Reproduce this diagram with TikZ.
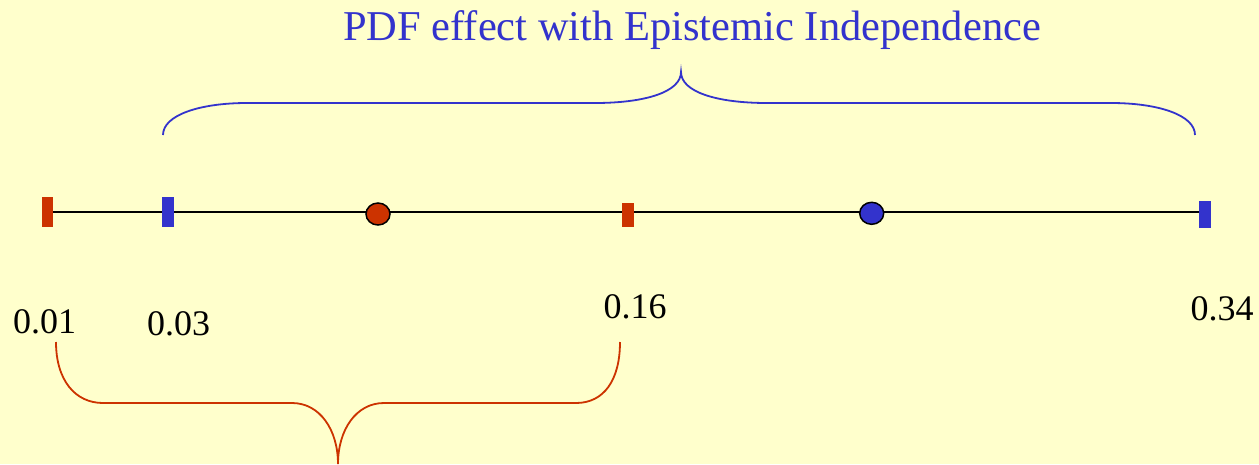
\documentclass[tikz,border=0pt]{standalone}
\usepackage{fontspec}
\setmainfont{Liberation Serif}
\usetikzlibrary{shapes.geometric}
\definecolor{bg}{HTML}{FFFFCC}
\definecolor{myred}{HTML}{CC3300}
\definecolor{myblue}{HTML}{3333CC}
\tikzset{
  bar/.style={draw=none, inner sep=0pt, minimum width=11.8pt},
  dot/.style={ellipse, draw=black, line width=1.5pt, inner sep=0pt, minimum width=24pt, minimum height=22pt},
  lbl/.style={anchor=base, inner sep=0pt, font=\fontsize{36}{41}\selectfont},
  brace/.style={line width=1.8pt},
}
\begin{document}
\begin{tikzpicture}[x=1pt,y=-1pt]
\fill[bg] (0,0) rectangle (1259,464);
\useasboundingbox (0,0) rectangle (1259,464);
\coordinate (pa) at (47.5,212);
\coordinate (pb) at (1205.3,212);
\draw[line width=1.8pt] (pa) -- (pb);
\node[bar, fill=myred, minimum height=30pt] (r1) at (pa) {};
\node[bar, fill=myblue, minimum height=30pt] (b1) at (168.3,212) {};
\node[bar, fill=myred, minimum height=24pt] (r2) at (627.8,214.7) {};
\node[bar, fill=myblue, minimum height=27.6pt] (b2) at (1205.3,214.5) {};
\node[dot, fill=myred] (c1) at (378,214) {};
\node[dot, fill=myblue] (c2) at (871.7,213.3) {};
\node[lbl] (l1) at (44.5,333) {0.01};
\node[lbl] (l2) at (178.5,335) {0.03};
\node[lbl] (l3) at (635,318) {0.16};
\node[lbl] (l4) at (1222,320) {0.34};
\node[lbl, text=myblue, font=\fontsize{42.5}{48}\selectfont] (title) at (692,40) {PDF effect with Epistemic Independence};
% blue brace
\draw[brace, myblue] (163,135) .. controls (163,115) and (200,103) .. (247,103)
  -- (595,103) .. controls (645,103) and (681,92) .. (681,72)
  .. controls (681,92) and (717,103) .. (767,103)
  -- (1111,103) .. controls (1158,103) and (1195,115) .. (1195,135);
% red brace
\draw[brace, myred] (56,342) .. controls (56,380) and (75,403) .. (103,403)
  -- (292,403) .. controls (320,403) and (338,430) .. (338,464)
  .. controls (338,430) and (356,403) .. (384,403)
  -- (576,403) .. controls (604,403) and (620,380) .. (620,342);
\end{tikzpicture}
\end{document}
